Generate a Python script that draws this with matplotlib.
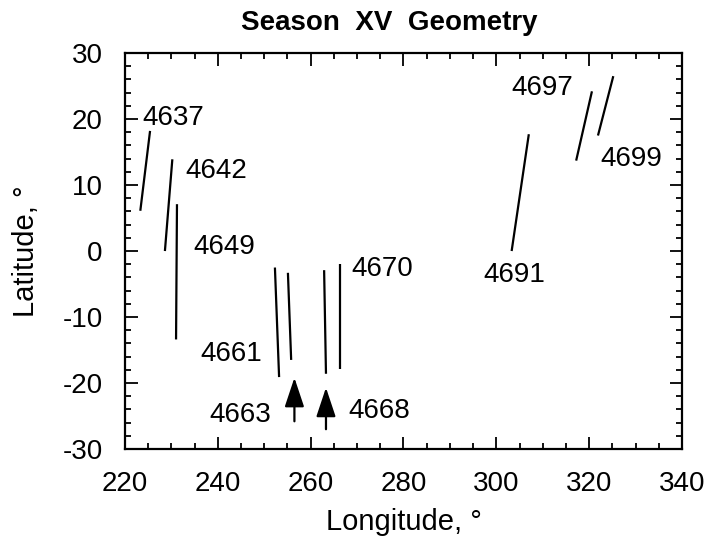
import numpy as np
import matplotlib
matplotlib.use('Agg')
import matplotlib.pyplot as plt
from matplotlib.ticker import MultipleLocator

plt.rcParams['font.family'] = ['Liberation Sans', 'DejaVu Sans']
plt.rcParams['axes.unicode_minus'] = False

## track data (longitude / latitude of start and end of each track)
orbits = ['4637', '4642', '4649', '4661', '4663', '4668', '4670', '4691', '4697', '4699']
lon_start = [223.3, 228.6, 231.0, 253.2, 255.8, 263.3, 266.4, 303.3, 317.2, 321.9]
lon_end = [225.4, 230.2, 231.2, 252.3, 255.1, 262.9, 266.4, 307.0, 320.6, 325.2]
lat_start = [6.1, 0.0, -13.4, -19.1, -16.5, -18.6, -17.9, 0.0, 13.7, 17.5]
lat_end = [18.2, 13.9, 7.1, -2.5, -3.3, -2.9, -2.0, 17.7, 24.2, 26.5]

## label positions (centre of text)
label_lon = [230.4, 239.7, 241.5, 242.8, 244.9, 274.8, 275.5, 303.8, 310.0, 329.0]
label_lat = [20.1, 12.1, 0.6, -15.6, -24.8, -24.2, -2.7, -3.6, 24.7, 14.0]

## arrows (pointing up to the tracks)
arrow_lon = [256.5, 263.3]
arrow_tail = [-25.8, -27.0]
arrow_tip = [-19.2, -20.7]

fig = plt.figure(figsize=(7.11, 5.38), dpi=100)
ax = fig.add_axes([0.1758, 0.1654, 0.7834, 0.736])

for i in range(len(orbits)):
    ax.plot([lon_start[i], lon_end[i]], [lat_start[i], lat_end[i]],
            color='black', lw=1.6, solid_capstyle='butt')
    ax.text(label_lon[i], label_lat[i], orbits[i], fontsize=20,
            ha='center', va='center')

for x, t0, t1 in zip(arrow_lon, arrow_tail, arrow_tip):
    ax.annotate('', xy=(x, t1), xytext=(x, t0),
                arrowprops=dict(arrowstyle='-|>,head_width=0.4,head_length=1.2',
                                color='black', lw=1.6, mutation_scale=15,
                                shrinkA=0, shrinkB=0))

ax.set_xlim(220, 340)
ax.set_ylim(-30, 30)
ax.xaxis.set_major_locator(MultipleLocator(20))
ax.xaxis.set_minor_locator(MultipleLocator(5))
ax.yaxis.set_major_locator(MultipleLocator(10))
ax.yaxis.set_minor_locator(MultipleLocator(2))
ax.tick_params(which='both', direction='in', top=True, right=True,
               labelsize=20, width=1.3)
ax.tick_params(which='major', length=9, pad=16)
ax.tick_params(which='minor', length=4.5)
for s in ax.spines.values():
    s.set_linewidth(1.6)

ax.set_xlabel('Longitude, °', fontsize=21, labelpad=8)
ax.set_ylabel('Latitude, °', fontsize=21, labelpad=16)
# title sits a little left of the axes centre in the original
fig.text(0.548, 0.957, 'Season  XV  Geometry', fontsize=20,
         fontweight='bold', ha='center', va='center')

fig.savefig('out.png', dpi=100)
